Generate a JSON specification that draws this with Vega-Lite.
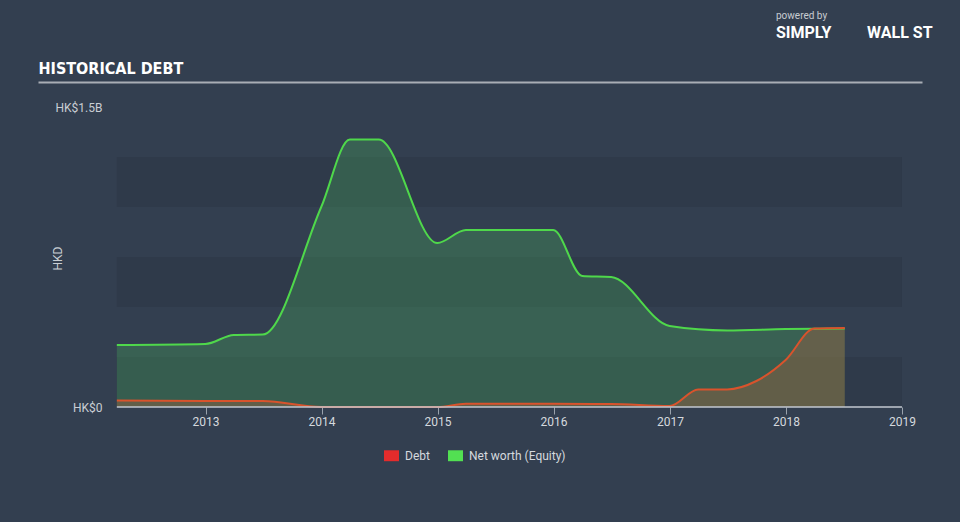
{
  "$schema": "https://vega.github.io/schema/vega-lite/v6.json",
  "width": 884,
  "height": 325,
  "autosize": {"type": "none"},
  "padding": {"left": 38, "top": 82, "right": 38, "bottom": 115},
  "background": "#333f50",
  "config": {"view": {"stroke": null}, "font": "Roboto"},
  "title": {
    "text": "powered by",
    "subtitle": "SIMPLY\u00a0\u00a0\u00a0\u00a0\u00a0\u00a0\u00a0\u00a0\u00a0WALL\u00a0ST",
    "anchor": "start",
    "frame": "group",
    "dx": 738,
    "offset": 19,
    "font": "Roboto",
    "fontSize": 10,
    "fontWeight": "normal",
    "color": "#c8ccd2",
    "subtitleFont": "Roboto",
    "subtitleFontSize": 16,
    "subtitleFontWeight": "bold",
    "subtitleColor": "#ffffff",
    "subtitlePadding": 4
  },
  "data": {
    "values": [
      {"date": "2012-03-28", "series": "Net worth (Equity)", "value": 310000000},
      {"date": "2012-12-31", "series": "Net worth (Equity)", "value": 315000000},
      {"date": "2013-03-31", "series": "Net worth (Equity)", "value": 360000000},
      {"date": "2013-06-30", "series": "Net worth (Equity)", "value": 362000000},
      {"date": "2013-12-31", "series": "Net worth (Equity)", "value": 1000000000},
      {"date": "2014-03-31", "series": "Net worth (Equity)", "value": 1337000000},
      {"date": "2014-06-30", "series": "Net worth (Equity)", "value": 1337000000},
      {"date": "2014-12-31", "series": "Net worth (Equity)", "value": 820000000},
      {"date": "2015-03-31", "series": "Net worth (Equity)", "value": 885000000},
      {"date": "2015-12-31", "series": "Net worth (Equity)", "value": 885000000},
      {"date": "2016-03-31", "series": "Net worth (Equity)", "value": 655000000},
      {"date": "2016-06-30", "series": "Net worth (Equity)", "value": 650000000},
      {"date": "2016-12-31", "series": "Net worth (Equity)", "value": 405000000},
      {"date": "2017-06-30", "series": "Net worth (Equity)", "value": 383000000},
      {"date": "2017-12-31", "series": "Net worth (Equity)", "value": 390000000},
      {"date": "2018-07-05", "series": "Net worth (Equity)", "value": 393000000},
      {"date": "2012-03-28", "series": "Debt", "value": 32000000},
      {"date": "2012-12-31", "series": "Debt", "value": 30000000},
      {"date": "2013-06-30", "series": "Debt", "value": 30000000},
      {"date": "2013-12-31", "series": "Debt", "value": 0},
      {"date": "2014-12-31", "series": "Debt", "value": 0},
      {"date": "2015-03-31", "series": "Debt", "value": 16000000},
      {"date": "2015-12-31", "series": "Debt", "value": 16000000},
      {"date": "2016-06-30", "series": "Debt", "value": 15000000},
      {"date": "2016-12-31", "series": "Debt", "value": 5000000},
      {"date": "2017-03-31", "series": "Debt", "value": 88000000},
      {"date": "2017-06-30", "series": "Debt", "value": 88000000},
      {"date": "2017-09-30", "series": "Debt", "value": 130000000},
      {"date": "2017-12-31", "series": "Debt", "value": 235000000},
      {"date": "2018-03-31", "series": "Debt", "value": 392000000},
      {"date": "2018-07-05", "series": "Debt", "value": 395000000}
    ]
  },
  "layer": [
    {
      "data": {"values": [{"lo": 0, "hi": 250000000}, {"lo": 500000000, "hi": 750000000}, {"lo": 1000000000, "hi": 1250000000}]},
      "mark": {"type": "rect", "fill": "#2f3a4a"},
      "encoding": {
        "x": {"datum": {"year": 2012, "month": 3, "date": 28, "utc": true}, "type": "temporal",
              "scale": {"type": "utc", "domain": [{"year": 2011, "month": 7, "date": 24, "utc": true}, {"year": 2019, "month": 3, "date": 5, "utc": true}]},
              "axis": null},
        "x2": {"datum": {"year": 2019, "month": 1, "date": 1, "utc": true}},
        "y": {"field": "lo", "type": "quantitative",
              "scale": {"domain": [0, 1625000000], "nice": false, "zero": true},
              "axis": {
                "orient": "left", "domain": false, "ticks": false, "tickSize": 0, "grid": false,
                "values": [0, 1500000000],
                "labelExpr": "datum.value == 0 ? 'HK$0' : 'HK$1.5B'",
                "labelAlign": "right", "labelPadding": -64,
                "labelColor": "#c9ced4", "labelFontSize": 12, "labelFont": "Roboto",
                "title": "HKD", "titleColor": "#c9ced4", "titleFontSize": 12, "titleFont": "Roboto",
                "titleFontWeight": "normal", "titleX": 26, "titleY": 176
              }},
        "y2": {"field": "hi"}
      }
    },
    {
      "transform": [{"filter": "datum.series === 'Net worth (Equity)'"}],
      "mark": {"type": "area", "interpolate": "monotone", "fill": "#46a05a", "fillOpacity": 0.35},
      "encoding": {
        "x": {"field": "date", "type": "temporal",
              "axis": {
                "orient": "bottom", "domain": false, "grid": false, "title": null,
                "values": [{"year": 2013, "utc": true}, {"year": 2014, "utc": true}, {"year": 2015, "utc": true}, {"year": 2016, "utc": true}, {"year": 2017, "utc": true}, {"year": 2018, "utc": true}, {"year": 2019, "utc": true}],
                "format": "%Y", "ticks": true, "tickColor": "#9aa3ad", "tickSize": 7, "tickWidth": 1,
                "labelColor": "#d5d9de", "labelFontSize": 12, "labelFont": "Roboto", "labelPadding": 2
              }},
        "y": {"field": "value", "type": "quantitative", "axis": null}
      }
    },
    {
      "transform": [{"filter": "datum.series === 'Debt'"}],
      "mark": {"type": "area", "interpolate": "monotone", "fill": "#c0603a", "fillOpacity": 0.32},
      "encoding": {
        "x": {"field": "date", "type": "temporal", "axis": null},
        "y": {"field": "value", "type": "quantitative", "axis": null}
      }
    },
    {
      "transform": [{"filter": "datum.series === 'Net worth (Equity)'"}],
      "mark": {"type": "line", "interpolate": "monotone", "stroke": "#4fd84b", "strokeWidth": 2},
      "encoding": {
        "x": {"field": "date", "type": "temporal", "axis": null},
        "y": {"field": "value", "type": "quantitative", "axis": null}
      }
    },
    {
      "transform": [{"filter": "datum.series === 'Debt'"}],
      "mark": {"type": "line", "interpolate": "monotone", "stroke": "#d9532c", "strokeWidth": 2},
      "encoding": {
        "x": {"field": "date", "type": "temporal", "axis": null},
        "y": {"field": "value", "type": "quantitative", "axis": null}
      }
    },
    {
      "transform": [{"filter": "false"}],
      "mark": {"type": "square", "opacity": 1, "filled": true},
      "encoding": {
        "color": {"field": "series", "type": "nominal",
                  "scale": {"domain": ["Debt", "Net worth (Equity)"], "range": ["#e42c2c", "#52e052"]},
                  "legend": {
                    "orient": "none", "legendX": 346, "legendY": 366, "direction": "horizontal",
                    "title": null, "symbolType": "M-1,-0.73H1V0.73H-1Z", "symbolSize": 225,
                    "symbolStrokeWidth": 0, "symbolOpacity": 1,
                    "labelColor": "#d5d9de", "labelFontSize": 12, "labelFont": "Roboto",
                    "labelOffset": 6, "columnPadding": 18
                  }}
      }
    },
    {
      "data": {"values": [{"start": "2012-03-28", "end": "2019-01-01", "base": 0}]},
      "mark": {"type": "rule", "color": "#c3c9d1", "strokeWidth": 1.5},
      "encoding": {
        "x": {"field": "start", "type": "temporal",
              "axis": {
                "orient": "top", "domain": true, "domainColor": "#a9aeb5", "domainWidth": 2,
                "ticks": false, "labels": false, "grid": false,
                "title": "HISTORICAL DEBT", "titleAnchor": "start", "titleAlign": "left",
                "titlePadding": 6, "titleFont": "DejaVu Sans Condensed, Liberation Sans, sans-serif", "titleFontWeight": "bold",
                "titleFontSize": 16, "titleColor": "#ffffff"
              }},
        "x2": {"field": "end"},
        "y": {"field": "base", "type": "quantitative", "axis": null}
      }
    }
  ],
  "resolve": {"axis": {"x": "independent", "y": "independent"}}
}
